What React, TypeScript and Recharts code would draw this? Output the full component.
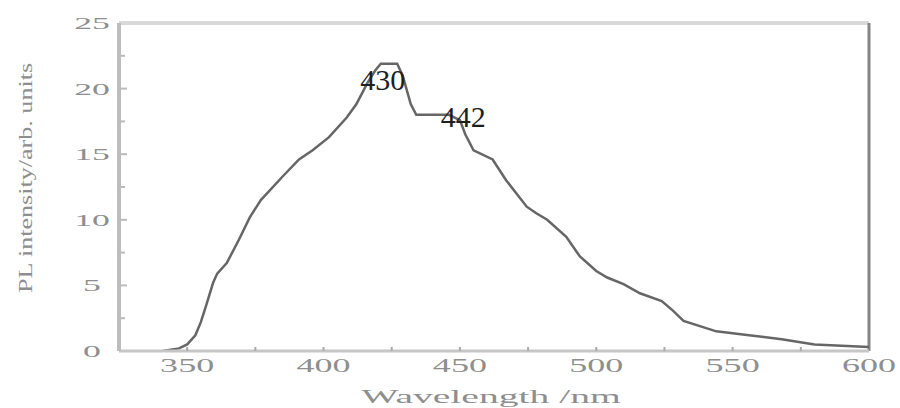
import React from 'react';
import { LineChart, Line, XAxis, YAxis, ReferenceDot, ReferenceLine } from 'recharts';

const wavelengths = [341, 347, 350, 353, 355, 357, 359.5, 361, 364.5, 369, 373, 377, 385, 391, 396, 402, 408.5, 412, 416, 419, 421, 427, 429, 430.5, 432, 434, 441.5, 446, 450, 452, 455, 462, 467, 474.5, 478, 482, 489, 494, 500, 504, 510, 516, 524, 528, 532, 544, 556, 568, 580, 590, 600];
const intensities = [0, 0.2, 0.5, 1.2, 2.2, 3.5, 5.2, 5.9, 6.7, 8.5, 10.2, 11.5, 13.3, 14.6, 15.3, 16.3, 17.8, 18.8, 20.4, 21.4, 21.9, 21.9, 21.0, 19.9, 18.8, 18.0, 18.0, 18.0, 17.6, 16.5, 15.3, 14.6, 13.0, 11.0, 10.5, 10.0, 8.7, 7.2, 6.1, 5.6, 5.1, 4.4, 3.8, 3.1, 2.3, 1.5, 1.2, 0.9, 0.5, 0.4, 0.3];

const xTicks = [350, 375, 400, 425, 450, 475, 500, 525, 550, 575, 600];
const yTicks = [0, 2.5, 5, 7.5, 10, 12.5, 15, 17.5, 20, 22.5, 25];

const annotationLabels = ['430', '442'];
const annotationX = [421.7, 451.2];
const annotationY = [19.9, 17.1];

const xTitle = 'Wavelength /nm';
const yTitle = 'PL intensity/arb. units';

const data = wavelengths.map((w, i) => ({ w, v: intensities[i] }));
const annotations = annotationLabels.map((t, i) => ({ t, x: annotationX[i], y: annotationY[i] }));

const FONT = '"Liberation Serif", "DejaVu Serif", serif';
const TICK_COLOR = '#8e8e8e';

const XTick = (props: any) => {
  const { x, y, payload } = props;
  const v = payload.value;
  const major = v % 50 === 0;
  return (
    <g>
      {v < 600 && <line x1={x} x2={x} y1={y} y2={y - 4} stroke="#aaa" strokeWidth={2} />}
      {major && (
        <text
          transform={`translate(${x},${y + 21}) scale(1.9,1)`}
          textAnchor="middle"
          fontFamily={FONT}
          fontSize={19}
          fill={TICK_COLOR}
        >
          {v}
        </text>
      )}
    </g>
  );
};

const YTick = (props: any) => {
  const { x, y, payload } = props;
  const v = payload.value;
  const major = v % 5 === 0;
  return (
    <g>
      {v > 0 && v < 25 && <line x1={x} x2={x + (major ? 8 : 6)} y1={y} y2={y} stroke="#bbb" strokeWidth={2} />}
      {major && (
        <text
          transform={`translate(${x - 27},${y + 6}) scale(2.1,1)`}
          textAnchor="middle"
          fontFamily={FONT}
          fontSize={17}
          fill={TICK_COLOR}
        >
          {v}
        </text>
      )}
    </g>
  );
};

const XTitle = (props: any) => {
  const vb = props.viewBox || { x: 119, y: 351, width: 750, height: 57 };
  const cx = vb.x + vb.width / 2 - 3;
  return (
    <text
      transform={`translate(${cx},${vb.y + 52}) scale(2.2,1)`}
      textAnchor="middle"
      fontFamily={FONT}
      fontSize={18}
      fill={TICK_COLOR}
    >
      {xTitle}
    </text>
  );
};

const YTitle = (props: any) => {
  const vb = props.viewBox || { x: 0, y: 23, width: 119, height: 328 };
  const cy = vb.y + vb.height / 2 - 9;
  return (
    <text
      transform={`translate(${32},${cy}) rotate(-90) scale(1.45,1)`}
      textAnchor="middle"
      fontFamily={FONT}
      fontSize={18}
      fill={TICK_COLOR}
    >
      {yTitle}
    </text>
  );
};

const AnnLabel = (text: string) => (props: any) => {
  const vb = props.viewBox || {};
  const px = vb.cx ?? vb.x;
  const py = vb.cy ?? vb.y;
  return (
    <text x={px} y={py} textAnchor="middle" fontFamily={FONT} fontSize={30} fill="#1e1e1e">
      {text}
    </text>
  );
};

export default function App() {
  return (
    <div style={{ position: 'absolute', left: 0, top: 0, width: 900, height: 408, background: '#fff' }}>
      <LineChart
        width={900}
        height={408}
        data={data}
        margin={{ top: 23, right: 31, bottom: 0, left: 0 }}
      >
        <ReferenceLine y={25} stroke="#d9d9d9" strokeWidth={4} />
        <ReferenceLine x={600} stroke="#858585" strokeWidth={3} />
        <XAxis
          dataKey="w"
          type="number"
          domain={[325, 600]}
          ticks={xTicks}
          interval={0}
          height={57}
          tickSize={0}
          tickMargin={0}
          tickLine={false}
          tick={<XTick />}
          axisLine={{ stroke: '#c6c6c6', strokeWidth: 3 }}
          label={<XTitle />}
          allowDataOverflow
        />
        <YAxis
          type="number"
          domain={[0, 25]}
          ticks={yTicks}
          interval={0}
          width={119}
          tickSize={0}
          tickMargin={0}
          tickLine={false}
          tick={<YTick />}
          axisLine={{ stroke: '#bdbdbd', strokeWidth: 4 }}
          label={<YTitle />}
          allowDataOverflow
        />
        <Line
          type="linear"
          dataKey="v"
          stroke="#666"
          strokeWidth={2.5}
          dot={false}
          isAnimationActive={false}
        />
        {annotations.map((a) => (
          <ReferenceDot
            key={a.t}
            x={a.x}
            y={a.y}
            r={0}
            fill="none"
            stroke="none"
            label={AnnLabel(a.t)}
          />
        ))}
      </LineChart>
    </div>
  );
}
